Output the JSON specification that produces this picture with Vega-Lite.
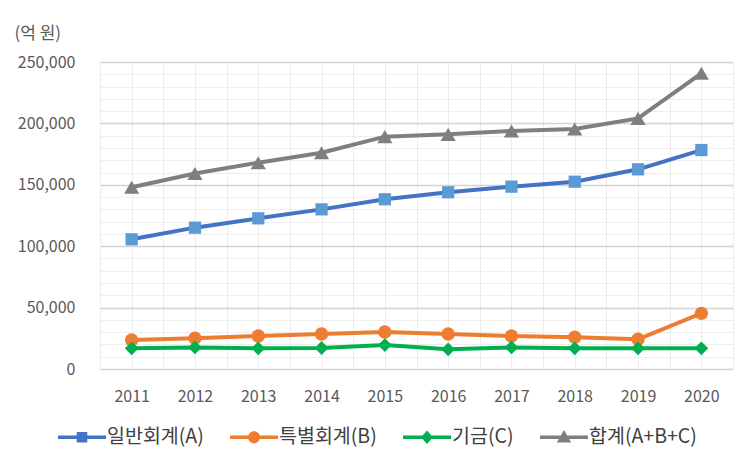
{
  "$schema": "https://vega.github.io/schema/vega-lite/v6.json",
  "width": 633,
  "height": 307,
  "autosize": {"type": "none"},
  "padding": {"left": 100, "top": 62, "right": 20, "bottom": 94},
  "background": "white",
  "config": {
    "view": {"stroke": null},
    "font": "Noto Sans CJK KR"
  },
  "data": {
    "values": [
      {"year": 2011, "series": "일반회계(A)", "value": 105600},
      {"year": 2012, "series": "일반회계(A)", "value": 115100},
      {"year": 2013, "series": "일반회계(A)", "value": 122700},
      {"year": 2014, "series": "일반회계(A)", "value": 130000},
      {"year": 2015, "series": "일반회계(A)", "value": 138200},
      {"year": 2016, "series": "일반회계(A)", "value": 143900},
      {"year": 2017, "series": "일반회계(A)", "value": 148500},
      {"year": 2018, "series": "일반회계(A)", "value": 152500},
      {"year": 2019, "series": "일반회계(A)", "value": 162600},
      {"year": 2020, "series": "일반회계(A)", "value": 178300},
      {"year": 2011, "series": "특별회계(B)", "value": 23600},
      {"year": 2012, "series": "특별회계(B)", "value": 25000},
      {"year": 2013, "series": "특별회계(B)", "value": 26900},
      {"year": 2014, "series": "특별회계(B)", "value": 28500},
      {"year": 2015, "series": "특별회계(B)", "value": 30100},
      {"year": 2016, "series": "특별회계(B)", "value": 28500},
      {"year": 2017, "series": "특별회계(B)", "value": 26900},
      {"year": 2018, "series": "특별회계(B)", "value": 25800},
      {"year": 2019, "series": "특별회계(B)", "value": 24200},
      {"year": 2020, "series": "특별회계(B)", "value": 45300},
      {"year": 2011, "series": "기금(C)", "value": 16800},
      {"year": 2012, "series": "기금(C)", "value": 17600},
      {"year": 2013, "series": "기금(C)", "value": 16800},
      {"year": 2014, "series": "기금(C)", "value": 17100},
      {"year": 2015, "series": "기금(C)", "value": 19500},
      {"year": 2016, "series": "기금(C)", "value": 16000},
      {"year": 2017, "series": "기금(C)", "value": 17600},
      {"year": 2018, "series": "기금(C)", "value": 16800},
      {"year": 2019, "series": "기금(C)", "value": 16800},
      {"year": 2020, "series": "기금(C)", "value": 16800},
      {"year": 2011, "series": "합계(A+B+C)", "value": 148000},
      {"year": 2012, "series": "합계(A+B+C)", "value": 159200},
      {"year": 2013, "series": "합계(A+B+C)", "value": 168000},
      {"year": 2014, "series": "합계(A+B+C)", "value": 176100},
      {"year": 2015, "series": "합계(A+B+C)", "value": 189200},
      {"year": 2016, "series": "합계(A+B+C)", "value": 191100},
      {"year": 2017, "series": "합계(A+B+C)", "value": 193800},
      {"year": 2018, "series": "합계(A+B+C)", "value": 195400},
      {"year": 2019, "series": "합계(A+B+C)", "value": 204100},
      {"year": 2020, "series": "합계(A+B+C)", "value": 240800}
    ]
  },
  "encoding": {
    "x": {
      "field": "year",
      "type": "quantitative",
      "scale": {"domain": [2010.5, 2020.5], "nice": false, "zero": false},
      "axis": {
        "title": null,
        "values": [2010.5, 2011, 2011.5, 2012, 2012.5, 2013, 2013.5, 2014, 2014.5, 2015, 2015.5, 2016, 2016.5, 2017, 2017.5, 2018, 2018.5, 2019, 2019.5, 2020, 2020.5],
        "labelExpr": "datum.value % 1 === 0 ? format(datum.value, 'd') : ''",
        "grid": true,
        "gridColor": "#ececec",
        "gridWidth": 1,
        "domain": false,
        "ticks": false,
        "tickSize": 0,
        "labelPadding": 19,
        "labelFontSize": 16,
        "labelColor": "#595959",
        "labelFont": "Noto Sans CJK KR"
      }
    },
    "y": {
      "field": "value",
      "type": "quantitative",
      "scale": {"domain": [0, 250000], "nice": false},
      "axis": {
        "title": "(억 원)",
        "titleAngle": 0,
        "titleAlign": "left",
        "titleBaseline": "middle",
        "titleX": -86,
        "titleY": -29,
        "titleFontSize": 17,
        "titleFontWeight": "normal",
        "titleColor": "#595959",
        "titleFont": "Noto Sans CJK KR",
        "values": [0, 10000, 20000, 30000, 40000, 50000, 60000, 70000, 80000, 90000, 100000, 110000, 120000, 130000, 140000, 150000, 160000, 170000, 180000, 190000, 200000, 210000, 220000, 230000, 240000, 250000],
        "labelExpr": "datum.value % 50000 === 0 ? format(datum.value, ',') : ''",
        "grid": true,
        "gridColor": {"condition": {"test": "datum.value % 50000 === 0", "value": "#d4d4d4"}, "value": "#eeeeee"},
        "gridWidth": {"condition": {"test": "datum.value % 50000 === 0", "value": 1.5}, "value": 1},
        "domain": false,
        "ticks": false,
        "tickSize": 0,
        "labelPadding": 25,
        "labelFontSize": 16,
        "labelColor": "#595959",
        "labelFont": "Noto Sans CJK KR"
      }
    }
  },
  "layer": [
    {
      "mark": {"type": "line", "strokeWidth": 4},
      "encoding": {
        "stroke": {
          "field": "series",
          "type": "nominal",
          "sort": null,
          "scale": {
            "domain": ["일반회계(A)", "특별회계(B)", "기금(C)", "합계(A+B+C)"],
            "range": ["#4472C4", "#ED7D31", "#00B050", "#7F7F7F"]
          },
          "legend": {
            "title": null,
            "orient": "none",
            "direction": "horizontal",
            "legendX": -42,
            "legendY": 351,
            "symbolSize": 2304,
            "symbolStrokeWidth": 0,
            "labelFontSize": 19.5,
            "labelColor": "#404040",
            "labelFont": "Noto Sans CJK KR",
            "labelOffset": 1,
            "columnPadding": 26,
            "encode": {
              "symbols": {
                "update": {
                  "shape": {"signal": "datum.value === '일반회계(A)' ? 'M-1,-0.07H1V0.07H-1Z M-0.22,-0.22H0.22V0.22H-0.22Z' : datum.value === '특별회계(B)' ? 'M-1,-0.07H1V0.07H-1Z M0.25,0A0.25,0.25 0 1,1 -0.25,0A0.25,0.25 0 1,1 0.25,0Z' : datum.value === '기금(C)' ? 'M-1,-0.07H1V0.07H-1Z M0,-0.28L0.25,0L0,0.28L-0.25,0Z' : 'M-1,-0.07H1V0.07H-1Z M0,-0.3L0.3,0.22H-0.3Z'"},
                  "size": {"value": 2304},
                  "fill": {"signal": "datum.value === '일반회계(A)' ? '#4472C4' : datum.value === '특별회계(B)' ? '#ED7D31' : datum.value === '기금(C)' ? '#00B050' : '#7F7F7F'"},
                  "stroke": {"value": "transparent"},
                  "strokeWidth": {"value": 0},
                  "opacity": {"value": 1}
                }
              }
            }
          }
        },
        "detail": {"field": "series"}
      }
    },
    {
      "transform": [{"filter": "datum.series === '일반회계(A)'"}],
      "mark": {"type": "point", "filled": true, "opacity": 1, "shape": "square", "size": 150, "color": "#5B9BD5"}
    },
    {
      "transform": [{"filter": "datum.series === '특별회계(B)'"}],
      "mark": {"type": "point", "filled": true, "opacity": 1, "shape": "circle", "size": 180, "color": "#ED7D31"}
    },
    {
      "transform": [{"filter": "datum.series === '기금(C)'"}],
      "mark": {"type": "point", "filled": true, "opacity": 1, "shape": "diamond", "size": 190, "color": "#00B050"}
    },
    {
      "transform": [{"filter": "datum.series === '합계(A+B+C)'"}],
      "mark": {"type": "point", "filled": true, "opacity": 1, "shape": "triangle-up", "size": 230, "color": "#7F7F7F"}
    }
  ]
}
